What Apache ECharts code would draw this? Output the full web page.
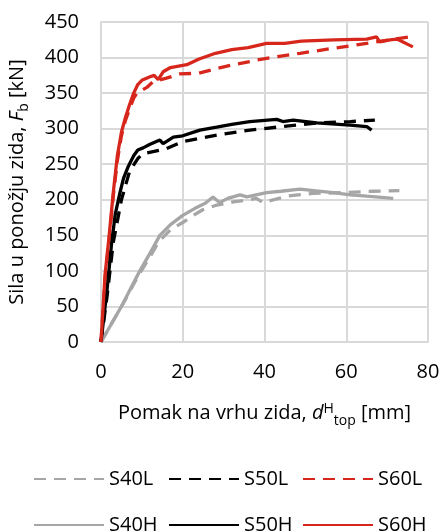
<!DOCTYPE html>
<html>
<head>
<meta charset="utf-8">
<script src="https://cdn.jsdelivr.net/npm/echarts@6/dist/echarts.min.js"></script>
<style>
    html, body { margin: 0; padding: 0; background: #fff; }
    #chart { width: 443px; height: 532px; }
</style>
</head>
<body>
<div id="chart"></div>
<script>
// Pomak na vrhu zida [mm], sila u ponožju [kN]
var seriesNames = ['S40L', 'S50L', 'S60L', 'S40H', 'S50H', 'S60H'];

var s40L = [[0,0],[3,30],[6,60],[9,92],[12,120],[14,140],[17,158],[20,168],[22,176],[24.9,186],[28,192],[32.4,197],[36,200],[38,202],[39.7,196],[45.4,205],[51.9,209],[59,210],[66.6,212],[73,213]];
var s50L = [[0,0],[1.5,65],[3,140],[5,200],[7,240],[9,258],[10.3,265],[13,268],[16,272],[20,282],[24,286],[28.3,291],[36.4,298],[44.5,303],[52.8,308],[61,310],[67,312]];
var s60L = [[0,0],[1,90],[2,145],[3,205],[4,255],[5,290],[6,312],[7,328],[8,343],[8.8,350],[11.2,358],[12.7,366],[16,371],[19.3,377],[24,378],[28,384],[32.4,390],[40.5,399],[48.7,406],[56.8,413],[65,420],[70.7,425],[76.8,430]];
var s40H = [[0,0],[2.5,25],[5,50],[7.5,78],[9.5,100],[12,125],[14.4,150],[17,165],[20,178],[23,188],[25.5,195],[27.4,204],[29,196],[31,202],[34,207],[35.7,204],[40.5,210],[44,212],[48.7,215],[52,213],[56.8,210],[61,207],[65,205],[71.5,202]];
var s50H = [[0,0],[0.7,35],[1.4,69],[2.6,139],[3.5,180],[4.6,209],[5.5,230],[6.6,246],[8,262],[9,270],[10.3,273],[12,278],[14.4,284],[15.2,279],[17.7,288],[20,290],[24.2,298],[28.3,302],[32,306],[36.4,310],[43,313],[44.5,310],[47,312],[52.8,308],[60.9,305],[65,303],[66.2,298]];
var s60H = [[0,0],[0.5,48],[1,95],[2,150],[3,210],[4,262],[5,295],[6,316],[7,334],[8,350],[9,362],[10,368],[12,373],[13,375],[14,369],[15.2,380],[17,386],[21,390],[24,398],[28,406],[32,411],[36,414],[40.5,420],[45,420],[49,423],[57,425],[65,426],[67.4,429],[68.2,422],[70.7,425],[72.4,426],[76.3,415]];

var seriesData = [s40L, s50L, s60L, s40H, s50H, s60H];
var colors = ['#a6a6a6', '#000000', '#d7261c', '#a6a6a6', '#000000', '#d7261c'];

var font = '"Open Sans", "DejaVu Sans", sans-serif';

var series = seriesNames.map(function (name, i) {
    return {
        name: name,
        type: 'line',
        data: seriesData[i],
        showSymbol: false,
        symbol: 'none',
        color: colors[i],
        lineStyle: {
            width: 3.3,
            color: colors[i],
            type: i < 3 ? [12, 8] : 'solid'
        },
        z: i < 3 ? 2 : 3
    };
});

// legenda: dva reda po tri
var legendPos = [[28, 464], [163, 464], [297, 464], [28, 510], [163, 510], [297, 510]];
var legends = seriesNames.map(function (name, i) {
    return {
        data: [name],
        left: legendPos[i][0],
        top: legendPos[i][1],
        itemWidth: 70,
        itemHeight: 14,
        itemGap: 0,
        itemStyle: { opacity: 0 },
        textStyle: { fontFamily: font, fontSize: 20, color: '#000' }
    };
});

var option = {
    backgroundColor: '#fff',
    animation: false,
    grid: { left: 101, right: 15, top: 22, bottom: 190, containLabel: false, outerBoundsMode: 'none' },
    legend: legends,
    xAxis: {
        type: 'value',
        min: 0,
        max: 80,
        interval: 20,
        name: 'Pomak na vrhu zida, {i|d}{sup|H}{sub|top} [mm]',
        nameLocation: 'middle',
        nameGap: 60,
        nameTextStyle: {
            fontFamily: font, fontSize: 20, color: '#000', lineHeight: 22,
            rich: {
                i: { fontFamily: font, fontSize: 20, fontStyle: 'italic', color: '#000', lineHeight: 22 },
                sup: { fontFamily: font, fontSize: 14, color: '#000', verticalAlign: 'top', lineHeight: 14 },
                sub: { fontFamily: font, fontSize: 14, color: '#000', verticalAlign: 'bottom', lineHeight: 14, padding: [0, 0, -4, 0] }
            }
        },
        axisLine: { lineStyle: { color: '#d9d9d9', width: 2 } },
        axisTick: { show: false },
        axisLabel: { fontFamily: font, fontSize: 20, color: '#000', margin: 20 },
        splitLine: { lineStyle: { color: '#d9d9d9', width: 2 } }
    },
    yAxis: {
        type: 'value',
        min: 0,
        max: 450,
        interval: 50,
        name: 'Sila u ponožju zida, {i|F}{sub|b} [kN]',
        nameLocation: 'middle',
        nameGap: 70,
        nameRotate: 90,
        nameTextStyle: {
            fontFamily: font, fontSize: 20, color: '#000', lineHeight: 28,
            rich: {
                i: { fontFamily: font, fontSize: 20, fontStyle: 'italic', color: '#000', lineHeight: 28 },
                sub: { fontFamily: font, fontSize: 14, color: '#000', verticalAlign: 'bottom', lineHeight: 14 }
            }
        },
        axisLine: { show: true, lineStyle: { color: '#d9d9d9', width: 2 } },
        axisTick: { show: false },
        axisLabel: { fontFamily: font, fontSize: 20, color: '#000', margin: 22 },
        splitLine: { lineStyle: { color: '#d9d9d9', width: 2 } }
    },
    series: series
};

var myChart = echarts.init(document.getElementById('chart'), null, { renderer: 'canvas' });
myChart.setOption(option);
</script>
</body>
</html>
